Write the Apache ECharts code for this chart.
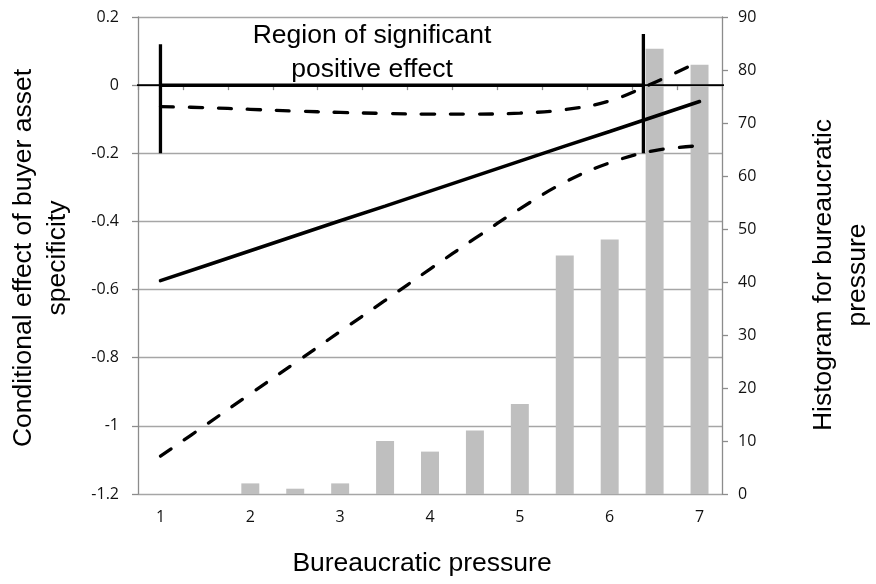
<!DOCTYPE html>
<html>
<head>
<meta charset="utf-8">
<script src="https://cdn.jsdelivr.net/npm/echarts@6/dist/echarts.min.js"></script>
<style>html,body{margin:0;padding:0;background:#fff}#c{width:876px;height:584px}</style>
</head>
<body>
<div id="c"></div>
<script>
// ---- data ----
const categories = ['1','1.5','2','2.5','3','3.5','4','4.5','5','5.5','6','6.5','7'];
const xValues = [1,1.5,2,2.5,3,3.5,4,4.5,5,5.5,6,6.5,7];
const histogram = [null,null,2,1,2,10,8,12,17,45,48,84,81];
const effect = [-0.574,-0.530,-0.486,-0.442,-0.398,-0.355,-0.311,-0.267,-0.223,-0.179,-0.136,-0.092,-0.048];
const upperCI = [-0.063,-0.066,-0.071,-0.076,-0.080,-0.083,-0.085,-0.085,-0.082,-0.072,-0.046,0.008,0.07];
const lowerCI = [-1.089,-0.998,-0.906,-0.815,-0.723,-0.632,-0.540,-0.450,-0.363,-0.285,-0.228,-0.192,-0.178];
const regionBounds = [1, 6.375];
const regionTop = [0.12, 0.15];
const regionBottom = -0.2;
const zeroLineExtent = [0.65, 7.3];

const leftTitle = 'Conditional effect of buyer asset\nspecificity';
const rightTitle = 'Histogram for bureaucratic\npressure';
const xTitle = 'Bureaucratic pressure';
const regionText = 'Region of significant\npositive effect';

// ---- chart ----
const chart = echarts.init(document.getElementById('c'), null, {renderer:'canvas'});
const pairs = arr => xValues.map((x,i)=>[x,arr[i]]);
const dashStyle = {color:'#000', width:3.3, type:[13,16], cap:'round'};
const tickFont = {fontFamily:'Open Sans', fontSize:16, color:'#111'};
const axisGray = '#8c8c8c';
const titleFont = '26.5px "Liberation Sans", Arial';

const option = {
  animation:false,
  grid:{left:138, right:154, top:17, bottom:90},
  xAxis:[
    {type:'category', data:categories, boundaryGap:true,
     axisLine:{lineStyle:{color:axisGray, width:1.3}},
     axisTick:{show:true, interval:0, length:5, lineStyle:{color:axisGray, width:1.3}},
     axisLabel:Object.assign({interval:1, margin:15}, tickFont),
     splitLine:{show:false}},
    {type:'value', min:0.75, max:7.25, show:false, splitLine:{show:false}}
  ],
  yAxis:[
    {type:'value', min:-1.2, max:0.2, interval:0.2, position:'left',
     axisLine:{show:true, lineStyle:{color:axisGray, width:1.3}},
     axisTick:{show:true, length:6, lineStyle:{color:axisGray, width:1.3}},
     axisLabel:Object.assign({margin:19, formatter:v=>String(+v.toFixed(1))}, tickFont),
     splitLine:{show:true, lineStyle:{color:'#a6a6a6', width:1.3}}},
    {type:'value', min:0, max:90, interval:10, position:'right',
     axisLine:{show:true, lineStyle:{color:axisGray, width:1.3}},
     axisTick:{show:true, length:6, lineStyle:{color:axisGray, width:1.3}},
     axisLabel:Object.assign({margin:16}, tickFont),
     splitLine:{show:false}}
  ],
  series:[
    {type:'bar', xAxisIndex:0, yAxisIndex:1, data:histogram, barWidth:'40%',
     itemStyle:{color:'#bfbfbf'}, z:1},
    {type:'line', xAxisIndex:1, yAxisIndex:0, data:[[zeroLineExtent[0],0],[zeroLineExtent[1],0]],
     clip:false, symbol:'none', lineStyle:{color:'#000', width:1.6}, z:3},
    {type:'line', xAxisIndex:1, yAxisIndex:0, data:[[regionBounds[0],0],[regionBounds[1],0]],
     symbol:'none', lineStyle:{color:'#000', width:3.5}, z:4},
    {type:'line', xAxisIndex:1, yAxisIndex:0, data:[[regionBounds[0],regionTop[0]],[regionBounds[0],regionBottom]],
     symbol:'none', lineStyle:{color:'#000', width:3.3}, z:4},
    {type:'line', xAxisIndex:1, yAxisIndex:0, data:[[regionBounds[1],regionTop[1]],[regionBounds[1],regionBottom]],
     symbol:'none', lineStyle:{color:'#000', width:3.3}, z:4},
    {type:'line', xAxisIndex:1, yAxisIndex:0, data:pairs(effect), smooth:false,
     symbol:'none', lineStyle:{color:'#000', width:3.5, cap:'round'}, z:5},
    {type:'line', xAxisIndex:1, yAxisIndex:0, data:pairs(upperCI), smooth:0.4,
     symbol:'none', lineStyle:dashStyle, z:5},
    {type:'line', xAxisIndex:1, yAxisIndex:0, data:pairs(lowerCI), smooth:0.4,
     symbol:'none', lineStyle:dashStyle, z:5}
  ],
  graphic:[
    {type:'text', x:372, y:53, z:10,
     style:{text:regionText, fill:'#000', font:titleFont, align:'center', verticalAlign:'middle', lineHeight:34}},
    {type:'text', x:41, y:258, rotation:Math.PI/2, z:10,
     style:{text:leftTitle, fill:'#000', font:titleFont, align:'center', verticalAlign:'middle', lineHeight:34}},
    {type:'text', x:841, y:275, rotation:Math.PI/2, z:10,
     style:{text:rightTitle, fill:'#000', font:titleFont, align:'center', verticalAlign:'middle', lineHeight:34}},
    {type:'text', x:422, y:564, z:10,
     style:{text:xTitle, fill:'#000', font:titleFont, align:'center', verticalAlign:'middle'}}
  ]
};
chart.setOption(option);
</script>
</body>
</html>
